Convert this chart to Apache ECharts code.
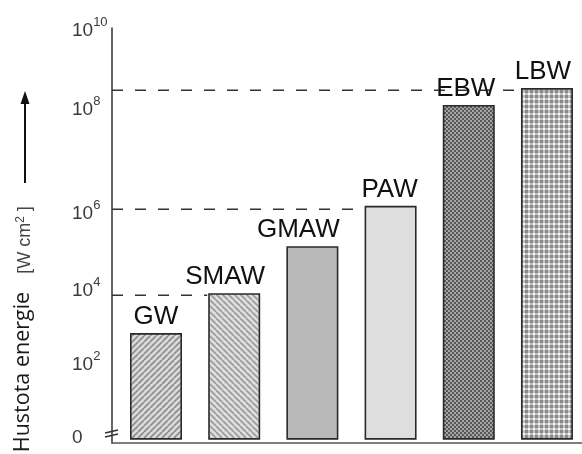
<!DOCTYPE html>
<html><head><meta charset="utf-8">
<script src="https://cdn.jsdelivr.net/npm/echarts@6/dist/echarts.min.js"></script>
<style>html,body{margin:0;padding:0;background:#fff}#c{width:582px;height:454px}</style>
</head><body><div id="c"></div>
<script>
// ---- data (schematic log axis: decades of W/cm^2 as drawn) ----
const categories = ['GW', 'SMAW', 'GMAW', 'PAW', 'EBW', 'LBW'];
const barValues = [2.59, 3.56, 4.70, 5.68, 8.13, 8.54];
const tickValues = [0.11, 1.89, 3.68, 5.55, 8.08, 10];
const tickBases = ['0', '10', '10', '10', '10', '10'];
const tickExps = ['', '2', '4', '6', '8', '10'];
const refLevels = [3.51, 5.60, 8.49];
const refTargets = ['SMAW', 'PAW', 'LBW'];

// ---- styles ----
const X_MIN = -0.5627, X_MAX = 5.448, BAR_HALF = 0.345;
const labelShift = [0, -9, -14, -1, -3, -4];
function makePattern(size, draw) {
  const c = document.createElement('canvas');
  c.width = c.height = size;
  const g = c.getContext('2d');
  draw(g, size);
  return { image: c, repeat: 'repeat' };
}
function stripes(dir, bg, fg, s, lw) {
  return makePattern(s, (g) => {
    g.fillStyle = bg; g.fillRect(0, 0, s, s);
    g.strokeStyle = fg; g.lineWidth = lw;
    for (let k = -1; k <= 1; k++) {
      g.beginPath();
      if (dir > 0) { g.moveTo(k * s, s); g.lineTo(k * s + s, 0); }
      else { g.moveTo(k * s, 0); g.lineTo(k * s + s, s); }
      g.stroke();
    }
  });
}
const fills = [
  stripes(1, '#dadada', '#8e8e8e', 6, 1.7),
  stripes(-1, '#dedede', '#9a9a9a', 6, 1.6),
  '#b9b9b9',
  '#dedede',
  makePattern(4, (g) => {
    g.fillStyle = '#a4a4a4'; g.fillRect(0, 0, 4, 4);
    g.fillStyle = '#585858'; g.fillRect(0, 0, 2, 2); g.fillRect(2, 2, 2, 2);
  }),
  makePattern(5, (g) => {
    g.fillStyle = '#8a8a8a'; g.fillRect(0, 0, 5, 5);
    g.fillStyle = '#c4c4c4'; g.fillRect(3, 0, 2, 5); g.fillRect(0, 3, 5, 2);
    g.fillStyle = '#f6f6f6'; g.fillRect(3, 3, 2, 2);
  })
];

const chart = echarts.init(document.getElementById('c'), null, { renderer: 'canvas' });

const refSeries = refLevels.map((lv, k) => ({
  type: 'line', silent: true, z: 1, symbol: 'none', animation: false,
  data: [[X_MIN, lv], [categories.indexOf(refTargets[k]) - BAR_HALF, lv]],
  lineStyle: { color: '#333', width: 1.5, type: [11, 12] }
}));

chart.setOption({
  animation: false,
  backgroundColor: '#fff',
  grid: { left: 112, right: 0, top: 28, bottom: 11 },
  xAxis: {
    type: 'value', min: X_MIN, max: X_MAX,
    axisLine: { show: true, onZero: false, lineStyle: { color: '#555', width: 1.5 } },
    axisTick: { show: false }, axisLabel: { show: false }, splitLine: { show: false }
  },
  yAxis: {
    type: 'value', min: -0.08, max: 10,
    axisLine: { show: true, onZero: false, lineStyle: { color: '#333', width: 1.5 } },
    axisTick: { show: false }, splitLine: { show: false },
    axisLabel: {
      customValues: tickValues,
      align: 'left', margin: 40,
      formatter: (v) => {
        let best = 0;
        tickValues.forEach((t, i) => { if (Math.abs(t - v) < Math.abs(tickValues[best] - v)) best = i; });
        return tickExps[best] ? '{b|' + tickBases[best] + '}{s|' + tickExps[best] + '}' : '{b|' + tickBases[best] + '}';
      },
      rich: {
        b: { fontSize: 19, fontFamily: 'Liberation Sans', color: '#3a3a3a', lineHeight: 24, verticalAlign: 'bottom' },
        s: { fontSize: 13, fontFamily: 'Liberation Sans', color: '#3a3a3a', lineHeight: 13, verticalAlign: 'top' }
      }
    }
  },
  series: [
    ...refSeries,
    {
      type: 'bar', barWidth: 52, z: 2,
      data: barValues.map((v, i) => ({ value: [i, v], itemStyle: { color: fills[i] }, label: { offset: [labelShift[i], 0] } })),
      itemStyle: { borderColor: '#2a2a2a', borderWidth: 1.6 },
      label: {
        show: true, position: 'top', distance: 3,
        formatter: (p) => categories[p.value[0]],
        fontFamily: 'Liberation Sans', fontSize: 26, color: '#111'
      }
    }
  ],
  graphic: [
    { type: 'text', x: 23, y: 372, rotation: Math.PI / 2,
      style: { text: 'Hustota energie', fontFamily: 'Open Sans', fontSize: 21.5, fill: '#1a1a1a', align: 'center', verticalAlign: 'middle' } },
    { type: 'text', x: 25, y: 240, rotation: Math.PI / 2,
      style: { text: '[W cm{s|2} ]', fontFamily: 'Liberation Sans', fontSize: 18, lineHeight: 20, fill: '#444', align: 'center', verticalAlign: 'middle',
        rich: { s: { fontSize: 12, lineHeight: 12, verticalAlign: 'top', fill: '#444', fontFamily: 'Liberation Sans' } } } },
    { type: 'line', shape: { x1: 25, y1: 183, x2: 25, y2: 101 }, style: { stroke: '#111', lineWidth: 2 } },
    { type: 'polygon', shape: { points: [[25, 91], [20.5, 104], [29.5, 104]] }, style: { fill: '#111' } },
    { type: 'line', shape: { x1: 105, y1: 433, x2: 118, y2: 430 }, style: { stroke: '#333', lineWidth: 1.5 } },
    { type: 'line', shape: { x1: 105, y1: 437, x2: 118, y2: 434 }, style: { stroke: '#333', lineWidth: 1.5 } }
  ]
});
</script>
</body></html>
